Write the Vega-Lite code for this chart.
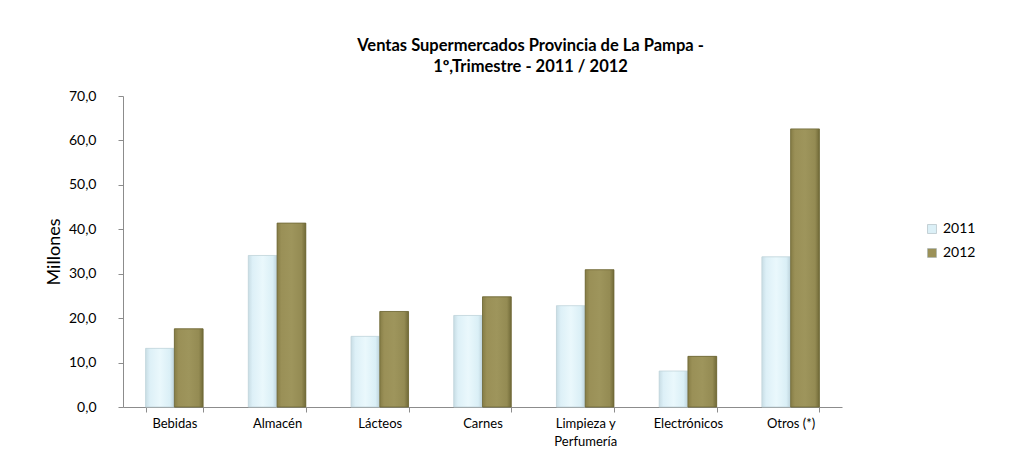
{
  "$schema": "https://vega.github.io/schema/vega-lite/v6.json",
  "width": 719,
  "height": 311,
  "autosize": {"type": "none"},
  "padding": {"left": 123, "top": 96, "right": 184, "bottom": 51},
  "background": "white",
  "config": {"view": {"stroke": null}, "font": "Lato"},
  "title": {
    "text": ["Ventas Supermercados Provincia de La Pampa -", "1º,Trimestre - 2011  / 2012"],
    "fontSize": 16.5,
    "fontWeight": "bold",
    "font": "Lato",
    "color": "#000000",
    "anchor": "middle",
    "dx": 48,
    "offset": 14,
    "lineHeight": 21
  },
  "data": {
    "values": [
      {"categoria": "Bebidas", "anio": "2011", "valor": 13.2},
      {"categoria": "Bebidas", "anio": "2012", "valor": 17.6},
      {"categoria": "Almacén", "anio": "2011", "valor": 34.1},
      {"categoria": "Almacén", "anio": "2012", "valor": 41.4},
      {"categoria": "Lácteos", "anio": "2011", "valor": 15.9},
      {"categoria": "Lácteos", "anio": "2012", "valor": 21.5},
      {"categoria": "Carnes", "anio": "2011", "valor": 20.6},
      {"categoria": "Carnes", "anio": "2012", "valor": 24.8},
      {"categoria": "Limpieza y Perfumería", "anio": "2011", "valor": 22.8},
      {"categoria": "Limpieza y Perfumería", "anio": "2012", "valor": 30.9},
      {"categoria": "Electrónicos", "anio": "2011", "valor": 8.1},
      {"categoria": "Electrónicos", "anio": "2012", "valor": 11.4},
      {"categoria": "Otros (*)", "anio": "2011", "valor": 33.8},
      {"categoria": "Otros (*)", "anio": "2012", "valor": 62.6}
    ]
  },
  "encoding": {
    "x": {
      "field": "categoria",
      "type": "nominal",
      "sort": null,
      "scale": {"paddingInner": 0.44, "paddingOuter": 0.22},
      "axis": {
        "title": null,
        "labelAngle": 0,
        "tickBand": "extent",
        "domainColor": "#8c8c8c",
        "tickColor": "#8c8c8c",
        "tickSize": 5,
        "labelPadding": 5,
        "labelFontSize": 13,
        "labelFont": "Lato",
        "labelColor": "#000000",
        "labelLineHeight": 18,
        "labelExpr": "datum.value == 'Limpieza y Perfumería' ? ['Limpieza y', 'Perfumería'] : datum.value"
      }
    },
    "xOffset": {"field": "anio", "type": "nominal"},
    "y": {
      "field": "valor",
      "type": "quantitative",
      "scale": {"domain": [0, 70]},
      "axis": {
        "title": "Millones",
        "titleFontSize": 18,
        "titleFont": "Lato",
        "titleFontWeight": "normal",
        "titleColor": "#000000",
        "titlePadding": 5,
        "values": [0, 10, 20, 30, 40, 50, 60, 70],
        "labelExpr": "replace(format(datum.value, '.1f'), '.', ',')",
        "grid": false,
        "domainColor": "#8c8c8c",
        "tickColor": "#8c8c8c",
        "tickSize": 5,
        "labelPadding": 22,
        "labelFontSize": 14,
        "labelFont": "Lato",
        "labelColor": "#000000"
      }
    }
  },
  "layer": [
    {
      "mark": {"type": "bar"},
      "encoding": {
        "color": {
          "field": "anio",
          "type": "nominal",
          "scale": {"domain": ["2011", "2012"], "range": ["#dcf0f7", "#9b9158"]},
          "legend": {
            "orient": "none",
            "legendX": 802,
            "legendY": 126,
            "title": null,
            "symbolType": "square",
            "symbolSize": 80,
            "symbolStrokeColor": "#9aaab0",
            "symbolStrokeWidth": 0.5,
            "labelFontSize": 14,
            "labelFont": "Lato",
            "labelColor": "#000000",
            "rowPadding": 10
          }
        }
      }
    },
    {
      "transform": [{"filter": "datum.anio == '2011'"}],
      "mark": {
        "type": "bar",
        "stroke": "#c2d4db",
        "strokeWidth": 0.8,
        "fill": {
          "gradient": "linear",
          "x1": 0, "x2": 1, "y1": 0, "y2": 0,
          "stops": [
            {"offset": 0, "color": "#c8dde5"},
            {"offset": 0.15, "color": "#ddf0f7"},
            {"offset": 0.5, "color": "#eaf8fc"},
            {"offset": 0.85, "color": "#daeff6"},
            {"offset": 1, "color": "#bcd2db"}
          ]
        }
      }
    },
    {
      "transform": [{"filter": "datum.anio == '2012'"}],
      "mark": {
        "type": "bar",
        "stroke": "#6d6736",
        "strokeWidth": 0.8,
        "fill": {
          "gradient": "linear",
          "x1": 0, "x2": 1, "y1": 0, "y2": 0,
          "stops": [
            {"offset": 0, "color": "#867d46"},
            {"offset": 0.15, "color": "#9a9057"},
            {"offset": 0.5, "color": "#9e955c"},
            {"offset": 0.85, "color": "#948b53"},
            {"offset": 1, "color": "#716a38"}
          ]
        }
      }
    }
  ]
}
